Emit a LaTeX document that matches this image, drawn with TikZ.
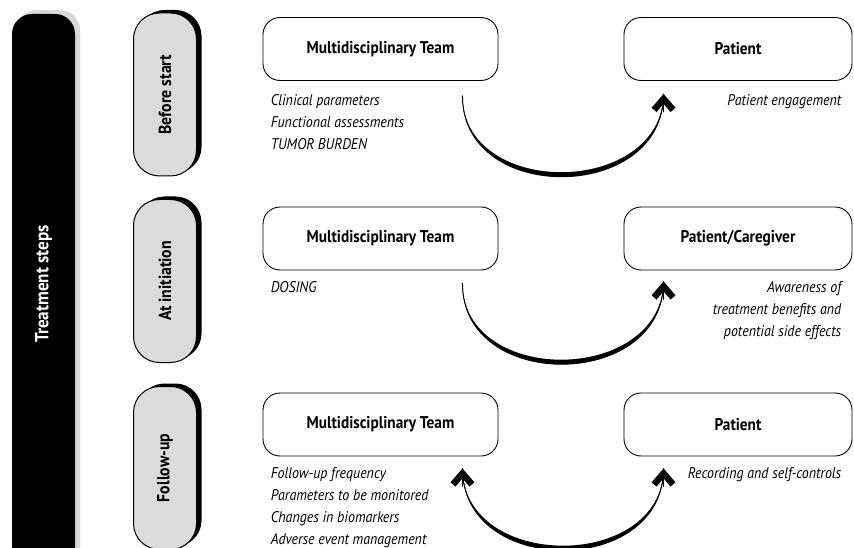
\documentclass[tikz,border=0pt]{standalone}
\usepackage{fontspec}
\setmainfont{PT Sans}[FakeStretch=0.9]
\usetikzlibrary{arrows.meta,shadows}

\begin{document}
\begin{tikzpicture}[x=1pt,y=-1pt,line cap=round,line join=round,
  stepsbar/.style={fill=black,rounded corners=20pt,rotate=90,minimum width=560pt,minimum height=63pt,
    drop shadow={shadow xshift=5pt,shadow yshift=4pt,fill=black!15,opacity=1}},
  stepbox/.style={draw,line width=1pt,fill=black!14,rounded corners=26pt,rotate=90,minimum width=163pt,
    minimum height=63pt,font=\fontsize{17.5}{20}\selectfont\bfseries,
    drop shadow={shadow xshift=5pt,shadow yshift=3pt,fill=black,opacity=1}},
  teambox/.style={draw,line width=0.9pt,rounded corners=17pt,minimum width=235pt,minimum height=63pt,
    font=\fontsize{17}{20}\selectfont\bfseries},
  listtext/.style={align=left,anchor=north west,inner sep=0pt,font=\fontsize{15.5}{22}\selectfont\itshape},
  sidetext/.style={align=right,anchor=north east,inner sep=0pt,font=\fontsize{15.5}{22}\selectfont\itshape},
  chevron/.tip={Straight Barb[length=11pt,width=19pt,line width=6.5pt,line join=miter,line cap=butt]},
  flowline/.style={line width=1pt},
  tipline/.style={line width=1pt,-chevron,shorten <=12pt}]
\useasboundingbox (0,0) rectangle (854,548);
\clip (0,0) rectangle (854,548);
% left bar
\node[stepsbar] (bar) at (43.5,294) {};
\node[rotate=90,text=white,font=\fontsize{19}{22}\selectfont\bfseries] (barlabel) at (43.5,284) {Treatment steps};
% steps
\node[stepbox] (before) at (165,94.5) {Before start};
\node[stepbox] (init) at (165,281) {At initiation};
\node[stepbox] (follow) at (165,468) {Follow-up};
% boxes
\node[teambox] (t1) at (380.5,49) {Multidisciplinary Team};
\node[teambox] (t2) at (380.5,238.5) {Multidisciplinary Team};
\node[teambox] (t3) at (380.5,424.5) {Multidisciplinary Team};
\node[teambox,minimum width=228pt] (p1) at (738,49) {Patient};
\node[teambox,minimum width=228pt] (p2) at (738,238.5) {Patient/Caregiver};
\node[teambox,minimum width=228pt] (p3) at (738,424.5) {Patient};
% texts
\node[listtext] (l1) at ([shift={(8,13)}]t1.south west) {Clinical parameters\\Functional assessments\\TUMOR BURDEN};
\node[listtext] (l2) at ([shift={(8,11)}]t2.south west) {DOSING};
\node[listtext] (l3) at ([shift={(8,11)}]t3.south west) {Follow-up frequency\\Parameters to be monitored\\Changes in biomarkers\\Adverse event management};
\node[sidetext] (r1) at ([shift={(-11,13)}]p1.south east) {Patient engagement};
\node[sidetext] (r2) at ([shift={(-11,11)}]p2.south east) {Awareness of\\treatment benefits and\\potential side effects};
\node[sidetext] (r3) at ([shift={(-11,11)}]p3.south east) {Recording and self-controls};
% arrows
\coordinate (s1) at ([shift={(-36,15)}]t1.south east);
\coordinate (e1) at ([shift={(40,13)}]p1.south west);
\coordinate (s2) at ([shift={(-36,13)}]t2.south east);
\coordinate (e2) at ([shift={(40,11)}]p2.south west);
\coordinate (s3) at ([shift={(-36,12)}]t3.south east);
\coordinate (e3) at ([shift={(40,12)}]p3.south west);
\fill (s1) .. controls +(0,109) and +(0,109) .. (e1) .. controls +(-2,103) and +(1,103) .. (s1);
\draw[flowline] (s1) .. controls +(0,109) and +(0,109) .. (e1);
\draw[tipline] ([yshift=-30]e1) -- (e1);
\fill (s2) .. controls +(0,109) and +(0,109) .. (e2) .. controls +(-2,103) and +(1,103) .. (s2);
\draw[flowline] (s2) .. controls +(0,109) and +(0,109) .. (e2);
\draw[tipline] ([yshift=-30]e2) -- (e2);
\fill (s3) .. controls +(0,109) and +(0,109) .. (e3) .. controls +(-1,103) and +(1,103) .. (s3);
\draw[flowline] (s3) .. controls +(0,109) and +(0,109) .. (e3);
\draw[tipline] ([yshift=-30]s3) -- (s3);
\draw[tipline] ([yshift=-30]e3) -- (e3);
\end{tikzpicture}
\end{document}
